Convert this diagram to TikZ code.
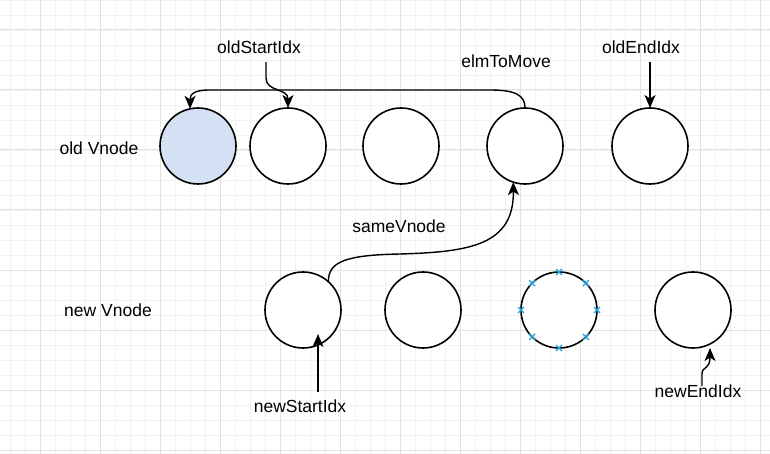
\documentclass[tikz,border=0pt]{standalone}
\usepackage{fontspec}
\setmainfont{Liberation Sans}
\usetikzlibrary{arrows.meta,shapes.misc}
\definecolor{gridmaj}{HTML}{E2E2E2}
\definecolor{gridmin}{HTML}{F2F2F2}
\definecolor{fillblue}{HTML}{D4E1F5}
\definecolor{markc}{HTML}{1BA1E2}
\tikzset{
  vnode/.style={circle,draw=black,line width=1.6pt,minimum size=76pt,inner sep=0pt,outer sep=0pt,fill=white},
  lbl/.style={font=\fontsize{17.5}{20}\selectfont,inner sep=0pt},
  conn/.style={draw=black,line width=1.4pt,-{Stealth[length=13pt,width=11pt,inset=3.5pt]}},
  xmark/.style={cross out,draw=markc,line width=1.1pt,minimum size=6pt,inner sep=0pt,outer sep=0pt},
}
\begin{document}
\begin{tikzpicture}[x=1pt,y=-1pt]
\useasboundingbox (0,0) rectangle (770,454);
\fill[white] (0,0) rectangle (770,454);
% grid
\foreach \x in {10,25,...,770} \draw[gridmin,line width=0.9pt] (\x,0) -- (\x,454);
\foreach \y in {0,15,...,454} \draw[gridmin,line width=0.9pt] (0,\y) -- (770,\y);
\foreach \x in {40,100,...,770} \draw[gridmaj,line width=1pt] (\x,0) -- (\x,454);
\foreach \y in {30,90,...,454} \draw[gridmaj,line width=1pt] (0,\y) -- (770,\y);
% old row
\node[vnode,fill=fillblue] (o1) at (198,146) {};
\node[vnode] (o2) at (288,146) {};
\node[vnode] (o3) at (401,146) {};
\node[vnode] (o4) at (525,146) {};
\node[vnode] (o5) at (650,146) {};
% new row
\node[vnode] (n1) at (303,310) {};
\node[vnode] (n2) at (423,310) {};
\node[vnode] (n3) at (559,310) {};
\node[vnode] (n4) at (693,310) {};
\foreach \a in {0,45,...,315} \node[xmark] (m\a) at (n3.\a) {};
% labels
\node[lbl] (oldv) at (99,148) {old Vnode};
\node[lbl] (newv) at (108,310) {new Vnode};
\node[lbl] (osi) at (259,47) {oldStartIdx};
\node[lbl] (elm) at (506,61) {elmToMove};
\node[lbl] (oei) at (641,47) {oldEndIdx};
\node[lbl] (same) at (399,226) {sameVnode};
\node[lbl] (nsi) at (300,406) {newStartIdx};
\node[lbl] (nei) at (698,391) {newEndIdx};
% connector endpoints
\coordinate (osiS) at (266,62);
\coordinate (oeiS) at (650,62);
\coordinate (nsiS) at (318,392);
\coordinate (nsiT) at (318,334);
\coordinate (neiS) at (702,386);
\coordinate (neiT) at (710,348);
% connectors
\draw[conn] (osiS) -- (266,78) .. controls (266,92) and (288,88) .. (o2.north);
\draw[conn] (o4.north) .. controls (525,95) and (515,90) .. (490,90) -- (210,90) .. controls (194,90) and (190,94) .. (o1.102);
\draw[conn] (oeiS) -- (o5.north);
\draw[conn] (n1.48) .. controls (328,262) and (345,255) .. (400,254) .. controls (470,252) and (514,245) .. (o4.252);
\draw[conn] (nsiS) -- (nsiT);
\draw[conn] (neiS) -- (702,374) .. controls (702,366) and (710,370) .. (neiT);
\end{tikzpicture}
\end{document}
